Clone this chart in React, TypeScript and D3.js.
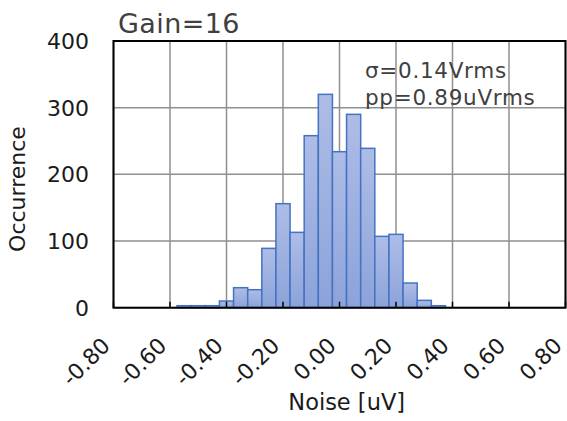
import React from 'react';
import * as d3 from 'd3';

const binCenters = [-0.55, -0.5, -0.45, -0.4, -0.35, -0.3, -0.25, -0.2, -0.15, -0.1, -0.05, 0, 0.05, 0.1, 0.15, 0.2, 0.25, 0.3, 0.35];
const counts = [3, 3, 3, 10, 30, 27, 89, 156, 113, 258, 320, 234, 290, 239, 107, 110, 37, 11, 3];
const binWidth = 0.05;
const xTicks = [-0.8, -0.6, -0.4, -0.2, 0, 0.2, 0.4, 0.6, 0.8];
const yTicks = [0, 100, 200, 300, 400];
const titleText = 'Gain=16';
const noteLines = ['σ=0.14Vrms', 'pp=0.89uVrms'];
const xLabel = 'Noise [uV]';
const yLabel = 'Occurrence';

const W = 567;
const H = 421;
const L = 113.5, R = 565.5, T = 41, B = 307.7;
const FONT = '"DejaVu Sans", Verdana, sans-serif';

export default function App() {
  const x = d3.scaleLinear().domain([-0.8, 0.8]).range([L, R]);
  const y = d3.scaleLinear().domain([0, 400]).range([B, T]);
  return (
    <svg width={W} height={H} style={{ position: 'absolute', left: 0, top: 0, background: '#fff' }} fontFamily={FONT}>
      <defs>
        <linearGradient id="barGrad" x1="0" y1="0" x2="0" y2="1">
          <stop offset="0" stopColor="#aebde6" />
          <stop offset="1" stopColor="#8ca3da" />
        </linearGradient>
      </defs>
      <rect x={0} y={0} width={W} height={H} fill="#fff" />
      {yTicks.map(t => (
        <line key={'gy' + t} x1={L} x2={R} y1={y(t)} y2={y(t)} stroke="#8f8f8f" strokeWidth={1.5} />
      ))}
      {xTicks.map(t => (
        <line key={'gx' + t} x1={x(t)} x2={x(t)} y1={T} y2={B} stroke="#8f8f8f" strokeWidth={1.5} />
      ))}
      {binCenters.map((c, i) => (
        <rect key={'b' + i}
          x={x(c - binWidth / 2)}
          y={y(counts[i])}
          width={x(c + binWidth / 2) - x(c - binWidth / 2)}
          height={y(0) - y(counts[i])}
          fill="url(#barGrad)" stroke="#4472c4" strokeWidth={1.5} />
      ))}
      {xTicks.map(t => (
        <line key={'tk' + t} x1={x(t)} x2={x(t)} y1={B} y2={B - 6} stroke="#000" strokeWidth={1.5} />
      ))}
      <rect x={L} y={T} width={R - L} height={B - T} fill="none" stroke="#000" strokeWidth={2} />
      {yTicks.map(t => (
        <text key={'yl' + t} x={89} y={y(t)} dy="0.36em" textAnchor="end" fontSize={22} fill="#1a1a1a">{t}</text>
      ))}
      {xTicks.map(t => (
        <text key={'xl' + t} transform={`translate(${x(t) - 2},${347}) rotate(-45)`} textAnchor="end" fontSize={22} fill="#1a1a1a">{t.toFixed(2)}</text>
      ))}
      <text x={118} y={33} fontSize={27} letterSpacing={0.4} fill="#404040">{titleText}</text>
      {noteLines.map((s, i) => (
        <text key={'n' + i} x={365} y={78 + i * 27} fontSize={21.5} letterSpacing={0.7} fill="#404040">{s}</text>
      ))}
      <text x={346.7} y={410} textAnchor="middle" fontSize={22.5} fill="#1a1a1a">{xLabel}</text>
      <text transform={`translate(25,189) rotate(-90)`} textAnchor="middle" fontSize={22} fill="#1a1a1a">{yLabel}</text>
    </svg>
  );
}
